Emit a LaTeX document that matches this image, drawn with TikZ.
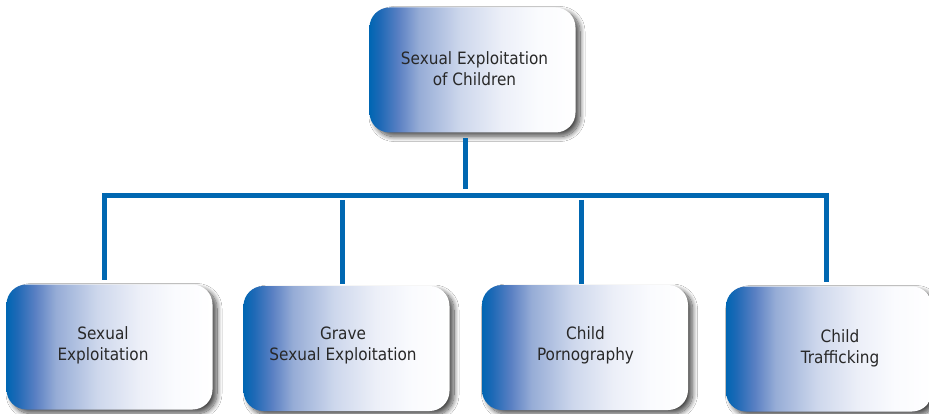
\documentclass[tikz,border=0pt]{standalone}
\usepackage{fontspec}
\setmainfont{DejaVu Sans}[FakeStretch=0.9]
\usetikzlibrary{shadows.blur,calc}
\definecolor{sb}{RGB}{0,102,179}
\definecolor{sa}{RGB}{30,105,182}
\definecolor{sc}{RGB}{90,128,195}
\definecolor{sd}{RGB}{150,172,214}
\definecolor{se}{RGB}{205,215,236}
\definecolor{sf}{RGB}{236,239,248}
\definecolor{sg}{RGB}{250,251,254}
\definecolor{linecol}{RGB}{0,103,177}
\definecolor{txtcol}{RGB}{40,40,40}
\pgfdeclarehorizontalshading{boxshade}{100bp}{color(0bp)=(sb); color(25bp)=(sb); color(27.5bp)=(sa); color(32bp)=(sc); color(37bp)=(sd); color(47bp)=(se); color(57bp)=(sf); color(66bp)=(sg); color(75bp)=(white); color(100bp)=(white)}
\begin{document}
\begin{tikzpicture}[x=1pt,y=-1pt,
  boxnode/.style={rectangle, rounded corners=20pt, minimum width=206pt, minimum height=125pt, inner sep=0pt, shading=boxshade,
    blur shadow={shadow xshift=4.5pt, shadow yshift=-4pt, shadow blur radius=5pt, shadow opacity=70, shadow blur steps=12}},
  txt/.style={text=txtcol, font=\fontsize{17}{21}\selectfont, align=center, inner sep=0pt},
  conn/.style={draw=linecol, line width=5pt}]
\useasboundingbox (0,0) rectangle (929,414);
\fill[white] (0,0) rectangle (929,414);
% boxes
\node[boxnode] (root) at (472.5,70) {};
\node[boxnode] (b1) at (109.5,347) {};
\node[boxnode] (b2) at (346.5,348.5) {};
\node[boxnode] (b3) at (585,347.5) {};
\node[boxnode] (b4) at (829,349) {};
% texts
\node[txt] (troot) at ($(root.center)+(2,-0.9)$) {Sexual Exploitation\\of Children};
\node[txt] (t1) at ($(b1.center)+(-6.5,-1.6)$) {Sexual\\Exploitation};
\node[txt] (t2) at ($(b2.center)+(-3.5,-3.1)$) {Grave\\Sexual Exploitation};
\node[txt] (t3) at ($(b3.center)+(0.5,-2.1)$) {Child\\Pornography};
\node[txt] (t4) at ($(b4.center)+(11,-1.1)$) {Child\\Trafficking};
% connectors
\coordinate (hub) at (465,189);
\coordinate (barl) at (102,195.5);
\coordinate (barr) at (824,195.5);
\draw[conn] ([xshift=-7.5pt,yshift=-5.5pt]root.south) -- (hub);
\draw[conn] (barl) -- (barr);
\draw[conn] (104.5,193) -- ([xshift=-5pt,yshift=4.5pt]b1.north);
\draw[conn] (342,200) -- ([xshift=-4.5pt,yshift=2pt]b2.north);
\draw[conn] (581.5,200) -- ([xshift=-3.5pt,yshift=0.5pt]b3.north);
\draw[conn] (826.5,193) -- ([xshift=-2.5pt,yshift=4.5pt]b4.north);
\end{tikzpicture}
\end{document}
